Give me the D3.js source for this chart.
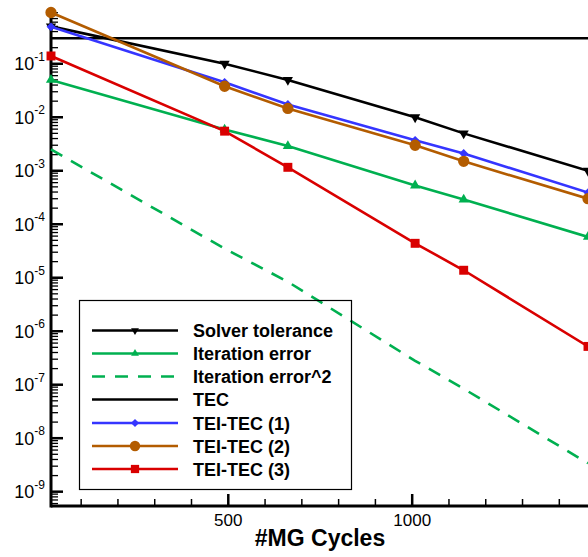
<!DOCTYPE html>
<html>
<head>
<meta charset="utf-8">
<script src="https://cdn.jsdelivr.net/npm/d3@7"></script>
<style>
  html, body { margin: 0; padding: 0; background: #fff; }
  svg { display: block; font-family: "Liberation Sans", Arial, sans-serif; }
</style>
</head>
<body>
<svg id="chart" width="588" height="557"></svg>
<script>
// ---- data ----
const cycles        = [18, 490, 662, 1008, 1140, 1478];
const solverTol     = [0.5, 0.1, 0.05, 0.01, 0.005, 0.001];
const iterError     = [0.05, 0.0059, 0.0029, 0.00053, 0.00029, 5.8e-5];
const iterError2    = [0.0025, 3.5e-5, 8.4e-6, 2.8e-7, 8.4e-8, 3.4e-9];
const tec           = [0.3, 0.3, 0.3, 0.3, 0.3, 0.3];
const teiTec1       = [0.49, 0.045, 0.0173, 0.0037, 0.0021, 0.00039];
const teiTec2       = [0.91, 0.038, 0.0146, 0.003, 0.0015, 0.0003];
const teiTec3       = [0.14, 0.0055, 0.00116, 4.4e-5, 1.38e-5, 5.2e-7];
const xTickLabels   = [500, 1000];
const yDecades      = [-9, -8, -7, -6, -5, -4, -3, -2, -1];
const seriesNames   = ["Solver tolerance", "Iteration error", "Iteration error^2", "TEC",
                       "TEI-TEC (1)", "TEI-TEC (2)", "TEI-TEC (3)"];

const series = [
  { name: seriesNames[0], values: solverTol,  color: "#000000", dash: null,    marker: "triDown" },
  { name: seriesNames[1], values: iterError,  color: "#00b050", dash: null,    marker: "triUp" },
  { name: seriesNames[2], values: iterError2, color: "#00b050", dash: "13,10", marker: null },
  { name: seriesNames[3], values: tec,        color: "#000000", dash: null,    marker: null },
  { name: seriesNames[4], values: teiTec1,    color: "#3535ff", dash: null,    marker: "diamond" },
  { name: seriesNames[5], values: teiTec2,    color: "#b35c00", dash: null,    marker: "circle" },
  { name: seriesNames[6], values: teiTec3,    color: "#d90000", dash: null,    marker: "square" }
];

// ---- layout ----
const svg = d3.select("#chart");
const pLeft = 51, pRight = 588, pTop = 11, pBottom = 506;

const x = d3.scaleLinear().domain([18, 1478]).range([pLeft, pRight]);
const y = d3.scaleLog().domain([5.4e-10, 0.97]).range([pBottom, pTop]);

// ---- axes ----
const gx = svg.append("g");
const minorX = d3.range(100, 1500, 100).filter(v => x(v) < pRight - 2);
gx.selectAll("line.tick").data(minorX).join("line")
  .attr("x1", d => x(d)).attr("x2", d => x(d))
  .attr("y1", pBottom).attr("y2", d => d % 500 === 0 ? pBottom - 12 : pBottom - 7)
  .attr("stroke", "#000").attr("stroke-width", d => d % 500 === 0 ? 2.5 : 1.5);
gx.selectAll("text").data(xTickLabels).join("text")
  .attr("x", d => x(d)).attr("y", 526)
  .attr("text-anchor", "middle").attr("font-size", 17).text(d => d);
svg.append("text").attr("x", 320).attr("y", 546).attr("text-anchor", "middle")
  .attr("font-size", 23).attr("font-weight", "bold").text("#MG Cycles");

const gy = svg.append("g");
const minorY = [];
for (let e = -10; e <= 0; e++) for (let k = 2; k <= 9; k++) minorY.push(k * Math.pow(10, e));
const yDom = y.domain();
gy.selectAll("line.minor").data(minorY.filter(v => v >= yDom[0] && v <= yDom[1])).join("line")
  .attr("x1", pLeft).attr("x2", pLeft + 7)
  .attr("y1", d => y(d)).attr("y2", d => y(d))
  .attr("stroke", "#000").attr("stroke-width", 1.3);
gy.selectAll("line.major").data(yDecades).join("line")
  .attr("x1", pLeft).attr("x2", pLeft + 12)
  .attr("y1", d => y(Math.pow(10, d))).attr("y2", d => y(Math.pow(10, d)))
  .attr("stroke", "#000").attr("stroke-width", 2.5);
const lab = gy.selectAll("text").data(yDecades).join("text")
  .attr("x", 45).attr("y", d => y(Math.pow(10, d)) + 6.5)
  .attr("text-anchor", "end").attr("font-size", 18);
lab.append("tspan").text("10");
lab.append("tspan").attr("dy", -9.5).attr("font-size", 12).text(d => "-" + (-d));

svg.append("line").attr("x1", pLeft).attr("x2", pRight).attr("y1", pBottom).attr("y2", pBottom)
  .attr("stroke", "#000").attr("stroke-width", 3);
svg.append("line").attr("x1", pLeft).attr("x2", pLeft).attr("y1", 10).attr("y2", pBottom + 1.5)
  .attr("stroke", "#000").attr("stroke-width", 3);

// ---- markers ----
function markerPath(type, s) {
  if (type === "triDown") return d3.symbol(d3.symbolTriangle, 45 * s)();
  if (type === "triUp") return d3.symbol(d3.symbolTriangle, 45 * s)();
  if (type === "diamond") return d3.symbol(d3.symbolDiamond2, 50 * s)();
  if (type === "circle") return d3.symbol(d3.symbolCircle, 100 * s)();
  if (type === "square") return d3.symbol(d3.symbolSquare, 80 * s)();
  return null;
}
function markerTransform(type, px, py) {
  let t = `translate(${px},${py})`;
  if (type === "triDown") t += " rotate(180)";
  return t;
}

// ---- lines ----
const line = d3.line().x((d, i) => x(cycles[i])).y(d => y(d));
const drawOrder = [3, 0, 1, 2, 6, 4, 5];
drawOrder.forEach(si => {
  const s = series[si];
  svg.append("path").datum(s.values)
    .attr("d", line).attr("fill", "none")
    .attr("stroke", s.color).attr("stroke-width", 2.6)
    .attr("stroke-dasharray", s.dash);
  if (s.marker) {
    svg.append("g").selectAll("path").data(s.values).join("path")
      .attr("d", markerPath(s.marker, 1))
      .attr("transform", (d, i) => markerTransform(s.marker, x(cycles[i]), y(d)))
      .attr("fill", s.color);
  }
});

// ---- legend ----
const lg = svg.append("g");
lg.append("rect").attr("x", 79.5).attr("y", 300.5).attr("width", 272).attr("height", 189)
  .attr("fill", "none").attr("stroke", "#000").attr("stroke-width", 1.2);
const rowY = [330.5, 353.5, 376.5, 399.5, 423, 446, 469];
series.forEach((s, i) => {
  const ry = rowY[i];
  lg.append("line").attr("x1", 92).attr("x2", 178).attr("y1", ry).attr("y2", ry)
    .attr("stroke", s.color).attr("stroke-width", 2.6).attr("stroke-dasharray", s.dash);
  if (s.marker) {
    const sc = s.marker.startsWith("tri") ? 0.6 : 0.85;
    lg.append("path").attr("d", markerPath(s.marker, sc))
      .attr("transform", markerTransform(s.marker, 135, ry)).attr("fill", s.color);
  }
  lg.append("text").attr("x", 193).attr("y", ry + 6.5)
    .attr("font-size", 18).attr("font-weight", "bold").text(s.name);
});
</script>
</body>
</html>
